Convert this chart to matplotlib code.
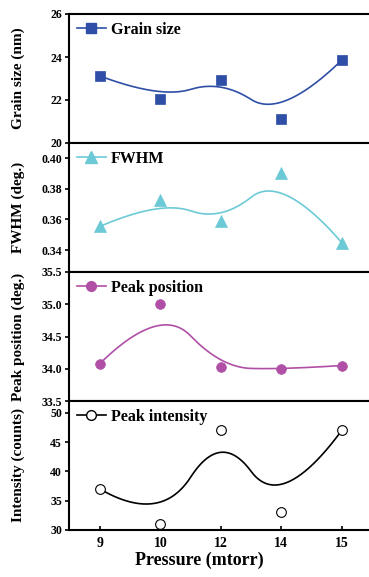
import numpy as np
import matplotlib
matplotlib.use('Agg')
import matplotlib.pyplot as plt
from matplotlib.ticker import FormatStrFormatter

# ---- data ----
pressure_labels = ['9', '10', '12', '14', '15']
grain_size = [23.12, 22.06, 22.93, 21.12, 23.86]
fwhm = [0.3554, 0.3724, 0.3587, 0.3902, 0.3448]
peak_position = [34.08, 35.00, 34.02, 33.99, 34.05]
peak_intensity = [37, 31, 47, 33, 47]

plt.rcParams['font.family'] = ['Liberation Serif', 'DejaVu Serif']
plt.rcParams['font.weight'] = 'bold'


def basis(i, k, t, knots):
    if k == 0:
        return np.where((knots[i] <= t) & (t < knots[i + 1]), 1.0, 0.0)
    out = np.zeros_like(t)
    d1 = knots[i + k] - knots[i]
    if d1 > 0:
        out += (t - knots[i]) / d1 * basis(i, k - 1, t, knots)
    d2 = knots[i + k + 1] - knots[i + 1]
    if d2 > 0:
        out += (knots[i + k + 1] - t) / d2 * basis(i + 1, k - 1, t, knots)
    return out


def bspline(xc, yc, k=2, n=300):
    m = len(xc)
    knots = np.array([0] * (k + 1) + list(range(1, m - k)) + [m - k] * (k + 1), float)
    t = np.linspace(0, m - k, n)
    t[-1] -= 1e-9
    bx = np.zeros(n)
    by = np.zeros(n)
    for i in range(m):
        b = basis(i, k, t, knots)
        bx += b * xc[i]
        by += b * yc[i]
    return bx, by


fig = plt.figure(figsize=(3.69, 5.77), dpi=100)
W, H = 369, 577
left = 69 / W
width = 302.5 / W
ph = 129

panels = [
    dict(y=grain_size, color='#2f4fa6', marker='s', ms=7, mfc='#2f4fa6', label='Grain size',
         ylabel='Grain size (nm)', ylim=(20, 26), ticks=[20, 22, 24, 26], fmt='%d'),
    dict(y=fwhm, color='#6ccad6', marker='^', ms=8, mfc='#6ccad6', label='FWHM',
         ylabel='FWHM (deg.)', ylim=(0.3257, 0.4098), ticks=[0.34, 0.36, 0.38, 0.40], fmt='%.2f'),
    dict(y=peak_position, color='#b04fa6', marker='o', ms=7, mfc='#b04fa6', label='Peak position',
         ylabel='Peak position (deg.)', ylim=(33.5, 35.5), ticks=[33.5, 34.0, 34.5, 35.0, 35.5], fmt='%.1f'),
    dict(y=peak_intensity, color='black', marker='o', ms=7, mfc='white', label='Peak intensity',
         ylabel='Intensity (counts)', ylim=(30, 52), ticks=[30, 35, 40, 45, 50], fmt='%d'),
]

xc = np.arange(len(pressure_labels))
for i, p in enumerate(panels):
    top = 14 + ph * i
    ax = fig.add_axes([left, 1 - (top + ph) / H, width, ph / H])
    bx, by = bspline(xc, p['y'])
    ax.plot(bx, by, color=p['color'], lw=1.2, zorder=2)
    ax.plot(xc, p['y'], linestyle='none', marker=p['marker'], ms=p['ms'],
            mfc=p['mfc'], mec=p['color'], mew=0.8 if p['mfc'] == 'white' else 0.5, zorder=3)
    ax.plot([], [], color=p['color'], lw=1.2, marker=p['marker'], ms=p['ms'],
            mfc=p['mfc'], mec=p['color'], label=p['label'])
    ax.set_xlim(-0.51, 4.49)
    ax.set_ylim(*p['ylim'])
    ax.set_yticks(p['ticks'])
    ax.yaxis.set_major_formatter(FormatStrFormatter(p['fmt']))
    ax.tick_params(axis='y', direction='out', length=3, width=1.2, labelsize=8.5, pad=2)
    for s in ax.spines.values():
        s.set_linewidth(1.5)
    ax.spines['right'].set_visible(False)
    ax.set_ylabel(p['ylabel'], fontsize=11, fontweight='bold')
    ax.yaxis.set_label_coords(-0.145, 0.5)
    for lab in ax.get_yticklabels():
        lab.set_fontweight('bold')
    leg = ax.legend(loc='upper left', frameon=False, fontsize=11.5, handlelength=1.8,
                    handletextpad=0.3, borderaxespad=0.2, borderpad=0.3)
    for txt in leg.get_texts():
        txt.set_fontweight('bold')
    if i < 3:
        ax.set_xticks([])
    else:
        ax.set_xticks(xc)
        ax.set_xticklabels(pressure_labels, fontsize=10, fontweight='bold')
        ax.tick_params(axis='x', direction='in', length=3, width=1.2, pad=5)
        ax.set_xlabel('Pressure (mtorr)', fontsize=13, fontweight='bold')
        ax.xaxis.set_label_coords(0.43, -0.165)

fig.savefig('out.png', dpi=100)
